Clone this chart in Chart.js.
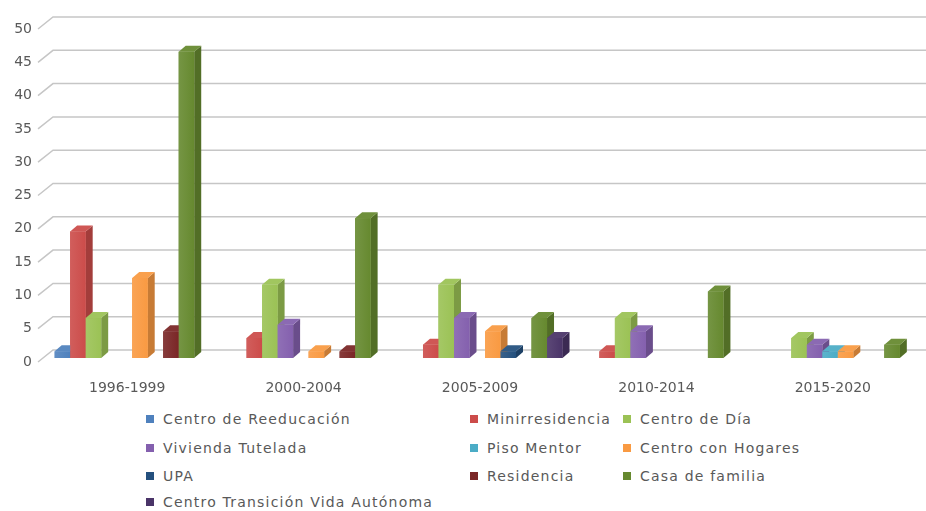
<!DOCTYPE html>
<html>
<head>
<meta charset="utf-8">
<script src="https://cdn.jsdelivr.net/npm/chart.js@4/dist/chart.umd.min.js"></script>
<style>
  body { margin: 0; background: #fff; }
  #wrap { position: relative; width: 926px; height: 511px; overflow: hidden; }
  #legend {
    position: absolute; left: 146px; top: 404px;
    display: grid;
    grid-template-columns: 324px 153px 220px;
    grid-template-rows: 29px 29px 27px 25px;
    font-family: 'DejaVu Sans', sans-serif; font-size: 14px; letter-spacing: 1.2px;
    color: #595959;
  }
  .item { display: flex; align-items: center; white-space: nowrap; }
  .box { width: 8px; height: 8px; margin-right: 9px; flex: none; }
</style>
</head>
<body>
<div id="wrap">
  <canvas id="chart" width="926" height="400"></canvas>
  <div id="legend"></div>
</div>
<script>
// data
let categories = ['1996-1999', '2000-2004', '2005-2009', '2010-2014', '2015-2020'];
let centroReeducacion = [1, 0, 0, 0, 0];
let minirresidencia   = [19, 3, 2, 1, 0];
let centroDia         = [6, 11, 11, 6, 3];
let viviendaTutelada  = [0, 5, 6, 4, 2];
let pisoMentor        = [0, 0, 0, 0, 1];
let centroHogares     = [12, 1, 4, 0, 1];
let upa               = [0, 0, 1, 0, 0];
let residencia        = [4, 1, 0, 0, 0];
let casaFamilia       = [46, 21, 6, 10, 2];
let centroTransicion  = [0, 0, 3, 0, 0];

let seriesNames = ['Centro de Reeducación', 'Minirresidencia', 'Centro de Día', 'Vivienda Tutelada',
  'Piso Mentor', 'Centro con Hogares', 'UPA', 'Residencia', 'Casa de familia', 'Centro Transición Vida Autónoma'];
let seriesValues = [centroReeducacion, minirresidencia, centroDia, viviendaTutelada, pisoMentor,
  centroHogares, upa, residencia, casaFamilia, centroTransicion];
let yTicks = [0, 5, 10, 15, 20, 25, 30, 35, 40, 45, 50];

let colors = ['#4f81bd', '#cc4c4a', '#9bc255', '#8460ae', '#4bacc6', '#f99a42',
  '#24507e', '#7a2626', '#66892f', '#4a3468'];

function shade(hex, f) {
  let n = parseInt(hex.slice(1), 16);
  let r = (n >> 16) & 255, g = (n >> 8) & 255, b = n & 255;
  if (f < 0) { r = r * (1 + f); g = g * (1 + f); b = b * (1 + f); }
  else { r = r + (255 - r) * f; g = g + (255 - g) * f; b = b + (255 - b) * f; }
  return 'rgb(' + Math.round(r) + ',' + Math.round(g) + ',' + Math.round(b) + ')';
}

// back wall grid with slanted ticks, like the excel 3d look
let wallGrid = {
  id: 'wallGrid',
  beforeDatasetsDraw(chart) {
    let ctx = chart.ctx, y = chart.scales.y;
    ctx.save();
    ctx.strokeStyle = '#c6c6c6';
    ctx.lineWidth = 1.5;
    yTicks.forEach(v => {
      let py = y.getPixelForValue(v);
      ctx.beginPath();
      ctx.moveTo(38, py + 4);
      ctx.lineTo(53, py - 8);
      ctx.lineTo(chart.width, py - 8);
      ctx.stroke();
    });
    ctx.restore();
  }
};

// side and top faces of the bars
let bars3d = {
  id: 'bars3d',
  afterDatasetsDraw(chart) {
    let ctx = chart.ctx;
    let dx = 7, dy = 6;
    ctx.save();
    for (let c = 0; c < categories.length; c++) {
      for (let s = 0; s < seriesValues.length; s++) {
        if (!(seriesValues[s][c] > 0)) continue;
        let bar = chart.getDatasetMeta(s).data[c];
        let left = bar.x - bar.width / 2, right = bar.x + bar.width / 2;
        let top = bar.y, base = bar.base;
        ctx.fillStyle = shade(colors[s], -0.2);
        ctx.beginPath();
        ctx.moveTo(right, top); ctx.lineTo(right + dx, top - dy);
        ctx.lineTo(right + dx, base - dy); ctx.lineTo(right, base);
        ctx.closePath(); ctx.fill();
        ctx.fillStyle = shade(colors[s], 0.06);
        ctx.beginPath();
        ctx.moveTo(left, top); ctx.lineTo(left + dx, top - dy);
        ctx.lineTo(right + dx, top - dy); ctx.lineTo(right, top);
        ctx.closePath(); ctx.fill();
        let grad = ctx.createLinearGradient(left, 0, right, 0);
        grad.addColorStop(0, shade(colors[s], 0.1));
        grad.addColorStop(1, colors[s]);
        ctx.fillStyle = grad;
        ctx.fillRect(left, top, right - left, base - top);
      }
    }
    ctx.restore();
  }
};

let datasets = [];
for (let i = 0; i < seriesNames.length; i++) {
  datasets.push({
    label: seriesNames[i],
    data: seriesValues[i],
    backgroundColor: colors[i],
    borderWidth: 0,
    categoryPercentage: 0.879,
    barPercentage: 1
  });
}

let tickFont = { family: "'DejaVu Sans', sans-serif", size: 14 };

new Chart(document.getElementById('chart'), {
  type: 'bar',
  data: { labels: categories, datasets: datasets },
  plugins: [wallGrid, bars3d],
  options: {
    responsive: false,
    animation: false,
    layout: { padding: { top: 25, right: 0, bottom: 0, left: 0 } },
    plugins: { legend: { display: false }, tooltip: { enabled: false } },
    scales: {
      x: {
        grid: { display: false },
        border: { display: false },
        ticks: { color: '#595959', font: tickFont, padding: 14, labelOffset: -5, maxRotation: 0 },
        afterFit: s => { s.height = 42; }
      },
      y: {
        min: 0, max: 50,
        grid: { display: false, drawTicks: false },
        border: { display: false },
        ticks: { stepSize: 5, color: '#595959', font: tickFont, padding: 12, labelOffset: 4 },
        afterFit: s => { s.width = 44; }
      }
    }
  }
});

let legend = document.getElementById('legend');
seriesNames.forEach((name, i) => {
  let item = document.createElement('div');
  item.className = 'item';
  let box = document.createElement('span');
  box.className = 'box';
  box.style.background = colors[i];
  item.appendChild(box);
  item.appendChild(document.createTextNode(name));
  legend.appendChild(item);
});
</script>
</body>
</html>
